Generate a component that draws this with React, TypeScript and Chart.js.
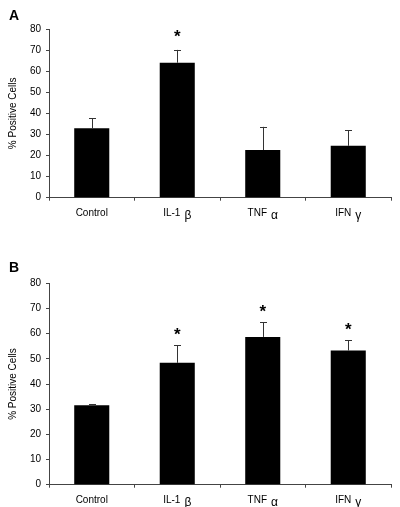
import React, { useEffect, useRef } from "react";
import { Chart, registerables } from "chart.js";

Chart.register(...registerables);

const categories = ["Control", "IL-1 β", "TNF α", "IFN γ"];
const valuesA = [32.9, 64.0, 22.6, 24.6];
const errorsA = [4.7, 6.1, 11.0, 7.5];
const sigA = [false, true, false, false];
const valuesB = [31.6, 48.4, 58.7, 53.3];
const errorsB = [0.3, 7.0, 5.9, 4.0];
const sigB = [false, true, true, true];
const yTicks = [0, 10, 20, 30, 40, 50, 60, 70, 80];

const FONT = "'Liberation Sans', Arial, sans-serif";

const errorPlugin = {
  id: "errbars",
  afterDatasetsDraw(chart: any, _args: any, opts: any) {
    const ctx = chart.ctx;
    const meta = chart.getDatasetMeta(0);
    const y = chart.scales.y;
    ctx.save();
    meta.data.forEach((bar: any, i: number) => {
      const v = opts.values[i];
      const e = opts.errors[i];
      const top = y.getPixelForValue(v + e);
      const base = y.getPixelForValue(v);
      ctx.strokeStyle = "#333";
      ctx.lineWidth = 1;
      ctx.beginPath();
      ctx.moveTo(Math.round(bar.x) + 0.5, base);
      ctx.lineTo(Math.round(bar.x) + 0.5, top);
      ctx.moveTo(Math.round(bar.x) - 3, Math.round(top) + 0.5);
      ctx.lineTo(Math.round(bar.x) + 4, Math.round(top) + 0.5);
      ctx.stroke();
      if (opts.sig[i]) {
        ctx.fillStyle = "#000";
        ctx.font = "bold 17px " + FONT;
        ctx.textAlign = "center";
        ctx.textBaseline = "alphabetic";
        ctx.fillText("*", bar.x, top - opts.gap);
      }
    });
    ctx.restore();
  },
};

// draws category labels with the Greek letter set lower, like the original figure
const labelPlugin = {
  id: "greekLabels",
  afterDraw(chart: any) {
    const ctx = chart.ctx;
    const x = chart.scales.x;
    const yBase = x.top + 18;
    ctx.save();
    ctx.fillStyle = "#000";
    ctx.textBaseline = "alphabetic";
    categories.forEach((lab, i) => {
      const cx = x.getPixelForValue(i);
      const parts = lab.split(" ");
      const main = parts[0];
      const greek = parts[1] || "";
      ctx.font = "10px " + FONT;
      const w1 = ctx.measureText(main).width;
      const gap = greek ? 4 : 0;
      ctx.font = "12px " + FONT;
      const w2 = greek ? ctx.measureText(greek).width : 0;
      const total = w1 + gap + w2;
      const start = cx - total / 2;
      ctx.textAlign = "left";
      ctx.font = "10px " + FONT;
      ctx.fillText(main, start, yBase);
      if (greek) {
        ctx.font = "12px " + FONT;
        ctx.fillText(greek, start + w1 + gap, yBase + 3);
      }
    });
    ctx.restore();
  },
};

function Panel(props: {
  values: number[];
  errors: number[];
  sig: boolean[];
  height: number;
  top: number;
  bottom: number;
  gap: number;
}) {
  const ref = useRef<HTMLCanvasElement>(null);
  useEffect(() => {
    const canvas = ref.current!;
    const chart = new Chart(canvas, {
      type: "bar",
      data: {
        labels: categories,
        datasets: [
          {
            data: props.values,
            backgroundColor: "#000",
            borderWidth: 0,
            categoryPercentage: 1,
            barPercentage: 0.41,
          },
        ],
      },
      plugins: [errorPlugin, labelPlugin],
      options: {
        animation: false,
        responsive: false,
        maintainAspectRatio: false,
        layout: { padding: { top: props.top, left: 0, right: 9, bottom: 0 } },
        plugins: {
          legend: { display: false },
          tooltip: { enabled: false },
          errbars: { values: props.values, errors: props.errors, sig: props.sig, gap: props.gap },
        } as any,
        scales: {
          x: {
            offset: true,
            grid: {
              offset: true,
              drawOnChartArea: false,
              drawTicks: true,
              tickLength: 3,
              color: "#444",
            },
            border: { color: "#444", width: 1 },
            ticks: { display: false },
            afterFit(scale: any) {
              scale.height = props.height - props.bottom;
            },
          },
          y: {
            min: 0,
            max: 80,
            afterBuildTicks(scale: any) {
              scale.ticks = yTicks.map((v) => ({ value: v }));
            },
            grid: {
              drawOnChartArea: false,
              drawTicks: true,
              tickLength: 3,
              color: "#444",
            },
            border: { color: "#444", width: 1 },
            ticks: {
              color: "#000",
              font: { family: FONT, size: 10 },
              padding: 5,
            },
            title: {
              display: true,
              text: "% Positive Cells",
              color: "#000",
              font: { family: FONT, size: 10 },
              padding: { top: 7, bottom: 0 },
            },
            afterFit(scale: any) {
              scale.width = 49;
            },
          },
        },
      } as any,
    });
    return () => chart.destroy();
  }, []);
  return (
    <canvas
      ref={ref}
      width={400}
      height={props.height}
      style={{ display: "block", width: 400, height: props.height }}
    />
  );
}

export default function App() {
  const letter: React.CSSProperties = {
    position: "absolute",
    left: 9,
    fontFamily: FONT,
    fontWeight: "bold",
    fontSize: 14,
    lineHeight: "14px",
    color: "#000",
  };
  return (
    <div
      style={{
        position: "fixed",
        left: 0,
        top: 0,
        width: 400,
        height: 507,
        background: "#fff",
      }}
    >
      <div style={{ position: "absolute", left: 0, top: 0 }}>
        <Panel values={valuesA} errors={errorsA} sig={sigA} height={230} top={29} bottom={197.7} gap={8} />
      </div>
      <div style={{ position: "absolute", left: 0, top: 250 }}>
        <Panel values={valuesB} errors={errorsB} sig={sigB} height={257} top={33.3} bottom={234.7} gap={5} />
      </div>
      <div style={{ ...letter, top: 8 }}>A</div>
      <div style={{ ...letter, top: 260 }}>B</div>
    </div>
  );
}
